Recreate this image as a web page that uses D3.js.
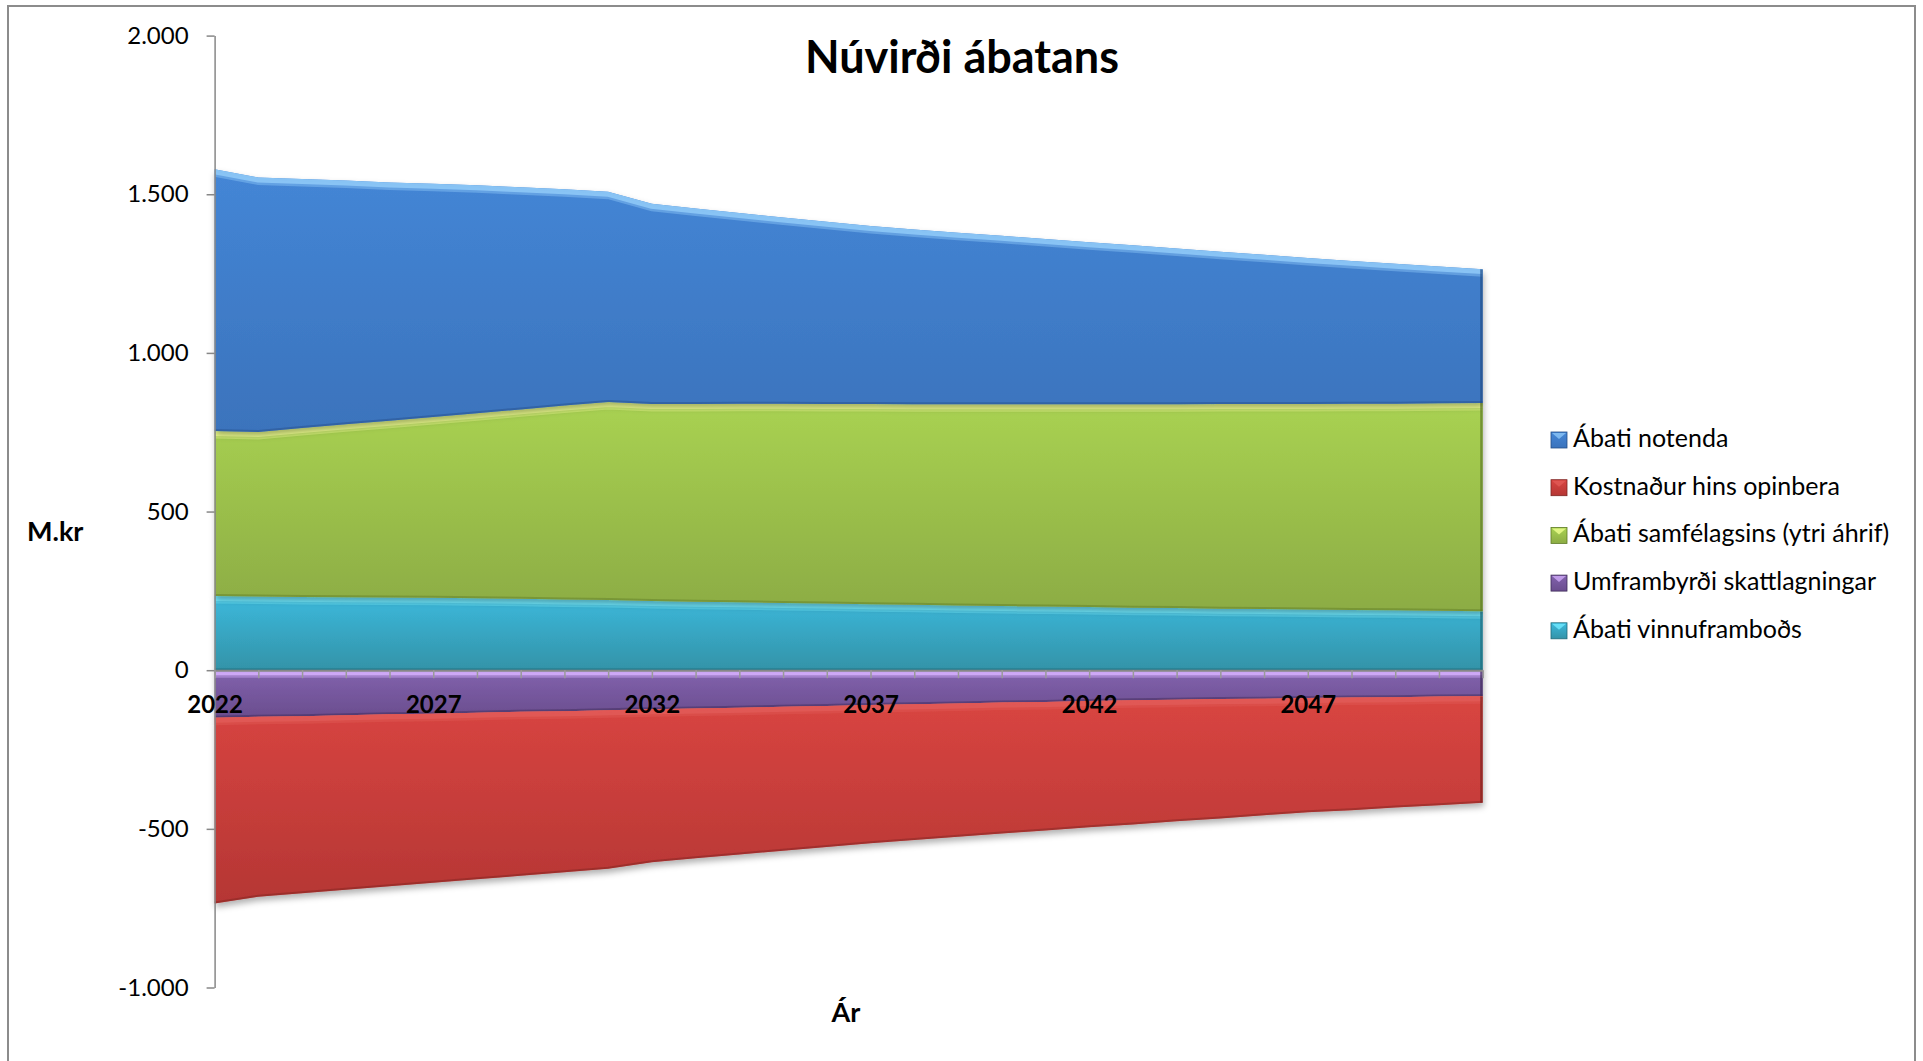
<!DOCTYPE html>
<html><head><meta charset="utf-8">
<script src="https://cdn.jsdelivr.net/npm/d3@7"></script>
<style>
body{margin:0;background:#fff}
svg{display:block}
text{font-family:Lato,"Open Sans",sans-serif}
</style>
</head><body>
<svg id="c" width="1923" height="1061"></svg>
<script>
// ---------- DATA ----------
const years = [2022,2023,2024,2025,2026,2027,2028,2029,2030,2031,2032,2033,2034,2035,2036,2037,2038,2039,2040,2041,2042,2043,2044,2045,2046,2047,2048,2049,2050,2051];
const abatiVinnuframbods = [234,232,231,230,229,228,227,225,223,221,218,216,214,212,210,208,206,204,202,201,199,197,196,194,193,191,190,189,187,186];
const umframbyrdi = [-150,-147,-145,-142,-139,-137,-134,-131,-129,-126,-123,-121,-118,-115,-113,-110,-107,-105,-102,-100,-97,-95,-93,-91,-90,-88,-86,-85,-83,-82];
const abatiSamfelagsins = [520,519,532,545,557,570,583,597,611,624,621,623,626,628,629,631,632,634,636,637,639,641,642,645,646,648,650,651,654,656];
const kostnadur = [-585,-567,-558,-550,-542,-533,-525,-517,-508,-500,-482,-472,-463,-454,-444,-435,-428,-420,-413,-405,-398,-391,-383,-376,-367,-360,-355,-348,-343,-336];
const abatiNotenda = [825,802,785,768,751,735,718,700,682,663,631,616,601,587,574,561,551,541,531,521,511,501,491,480,470,460,450,441,431,422];

const seriesNames = ["Ábati vinnuframboðs","Umframbyrði skattlagningar","Ábati samfélagsins (ytri áhrif)","Kostnaður hins opinbera","Ábati notenda"];
const seriesValues = [abatiVinnuframbods, umframbyrdi, abatiSamfelagsins, kostnadur, abatiNotenda];
const legendNames = ["Ábati notenda","Kostnaður hins opinbera","Ábati samfélagsins (ytri áhrif)","Umframbyrði skattlagningar","Ábati vinnuframboðs"];
const yTicks = [-1000,-500,0,500,1000,1500,2000];
const xLabelYears = [2022,2027,2032,2037,2042,2047];
const titleText = "Núvirði ábatans";
const yTitle = "M.kr";
const xTitle = "Ár";

// ---------- STYLE ----------
const styles = {
  "Ábati vinnuframboðs": {top:"#3cb9dc", bot:"#3393a8", hi:"#72eaff", dark:"#1f6a7a"},
  "Umframbyrði skattlagningar": {top:"#8262ad", bot:"#6a4d8e", hi:"#d0aaf8", dark:"#3e2b58"},
  "Ábati samfélagsins (ytri áhrif)": {top:"#a9d252", bot:"#8cac44", hi:"#efff90", dark:"#5d7a25"},
  "Kostnaður hins opinbera": {top:"#d94541", bot:"#b53634", hi:"#e15a56", dark:"#7d2422"},
  "Ábati notenda": {top:"#4486d6", bot:"#3b73bc", hi:"#8cc6f6", dark:"#244e87"}
};

const plot = {left:214.6, right:1482.7, top:35.6, bottom:987.5};

const svg = d3.select("#c");
const defs = svg.append("defs");

// outer frame
svg.append("rect").attr("x",8).attr("y",6).attr("width",1907).attr("height",1070)
  .attr("fill","#fff").attr("stroke","#8c8c8c").attr("stroke-width",2);

const x = d3.scalePoint().domain(years).range([plot.left, plot.right]).padding(0);
const y = d3.scaleLinear().domain([-1000,2000]).range([plot.bottom, plot.top]);

const rows = years.map((yr,i)=>{
  const r = {year:yr};
  seriesNames.forEach((n,k)=> r[n] = seriesValues[k][i]);
  return r;
});
const stacked = d3.stack().keys(seriesNames).offset(d3.stackOffsetDiverging)(rows);

// gradients
seriesNames.forEach((n,k)=>{
  const s = styles[n];
  const g = defs.append("linearGradient").attr("id","g"+k).attr("x1",0).attr("y1",0).attr("x2",0).attr("y2",1);
  g.append("stop").attr("offset","0%").attr("stop-color",s.top);
  g.append("stop").attr("offset","100%").attr("stop-color",s.bot);
});
const sh = defs.append("filter").attr("id","shadow").attr("x","-5%").attr("y","-5%").attr("width","110%").attr("height","120%");
sh.append("feDropShadow").attr("dx",1).attr("dy",4).attr("stdDeviation",3).attr("flood-color","#000").attr("flood-opacity",0.3);

const area = d3.area().x(d=>x(d.data.year)).y0(d=>y(d[0])).y1(d=>y(d[1]));
const topLine = d3.line().x(d=>x(d.data.year)).y(d=>y(d[1]));
const botLine = d3.line().x(d=>x(d.data.year)).y(d=>y(d[0]));

const gAreas = svg.append("g");
stacked.forEach((ser,k)=>{
  const s = styles[ser.key];
  defs.append("clipPath").attr("id","clip"+k).append("path").attr("d",area(ser));
  const g = gAreas.append("g").attr("filter", "url(#shadow)");
  g.append("path").attr("d",area(ser)).attr("fill","url(#g"+k+")");
  const inner = g.append("g").attr("clip-path","url(#clip"+k+")");
  inner.append("path").attr("d",topLine(ser)).attr("fill","none").attr("stroke",s.hi).attr("stroke-width",10).attr("opacity",0.95);
  inner.append("path").attr("d",topLine(ser)).attr("fill","none").attr("stroke",s.hi).attr("stroke-width",5).attr("opacity",0.45).attr("transform","translate(0,5)");
  inner.append("path").attr("d",botLine(ser)).attr("fill","none").attr("stroke",s.dark).attr("stroke-width",4).attr("opacity",0.45);
  const last = ser[ser.length-1];
  inner.append("line").attr("x1",x(last.data.year)).attr("x2",x(last.data.year))
    .attr("y1",y(last[1])).attr("y2",y(last[0])).attr("stroke",s.dark).attr("stroke-width",5).attr("opacity",0.7);
});

// locale for Icelandic numbers
const loc = d3.formatLocale({decimal:",", thousands:".", grouping:[3], currency:["",""], minus:"-"});
const fmt = loc.format(",d");

// y axis
const yAxis = svg.append("g").attr("transform",`translate(${plot.left},0)`)
  .call(d3.axisLeft(y).tickValues(yTicks).tickFormat(fmt).tickSizeInner(8).tickSizeOuter(0).tickPadding(18));
yAxis.select(".domain").attr("stroke","#878787").attr("stroke-width",1.5);
yAxis.selectAll(".tick line").attr("stroke","#878787").attr("stroke-width",1.5);
yAxis.selectAll("text").attr("font-size",24).attr("fill","#000").attr("font-family","Lato");

// x axis at zero
const xAxis = svg.append("g").attr("transform",`translate(0,${y(0)})`)
  .call(d3.axisBottom(x).tickValues(years).tickFormat(d=> xLabelYears.includes(d) ? String(d) : "")
    .tickSizeInner(8).tickSizeOuter(0).tickPadding(18));
xAxis.select(".domain").attr("stroke","#878787").attr("stroke-width",2);
xAxis.selectAll(".tick line").attr("stroke","#9a9a9a").attr("stroke-width",1.5);
xAxis.selectAll("text").attr("font-size",24).attr("font-weight","bold").attr("fill","#000").attr("font-family","Lato");

// titles
svg.append("text").attr("x",962).attr("y",73).attr("text-anchor","middle")
  .attr("font-size",45).attr("font-weight","bold").text(titleText);
svg.append("text").attr("x",27).attr("y",541).attr("font-size",27).attr("font-weight","bold").text(yTitle);
svg.append("text").attr("x",846).attr("y",1022).attr("text-anchor","middle").attr("font-size",27).attr("font-weight","bold").text(xTitle);

// legend
const legend = svg.append("g");
legendNames.forEach((n,i)=>{
  const k = seriesNames.indexOf(n);
  const s = styles[n];
  const yy = 432 + i*47.7;
  const g = legend.append("g").attr("transform",`translate(1551,${yy})`);
  g.append("rect").attr("width",16).attr("height",16).attr("fill","url(#g"+k+")").attr("stroke",s.dark).attr("stroke-width",0.8);
  g.append("path").attr("d","M1,1 L15,1 L8,7 Z").attr("fill",s.hi).attr("opacity",0.8);
  g.append("text").attr("x",22).attr("y",15).attr("font-size",25).attr("fill","#000").text(n);
});
</script>
</body></html>
